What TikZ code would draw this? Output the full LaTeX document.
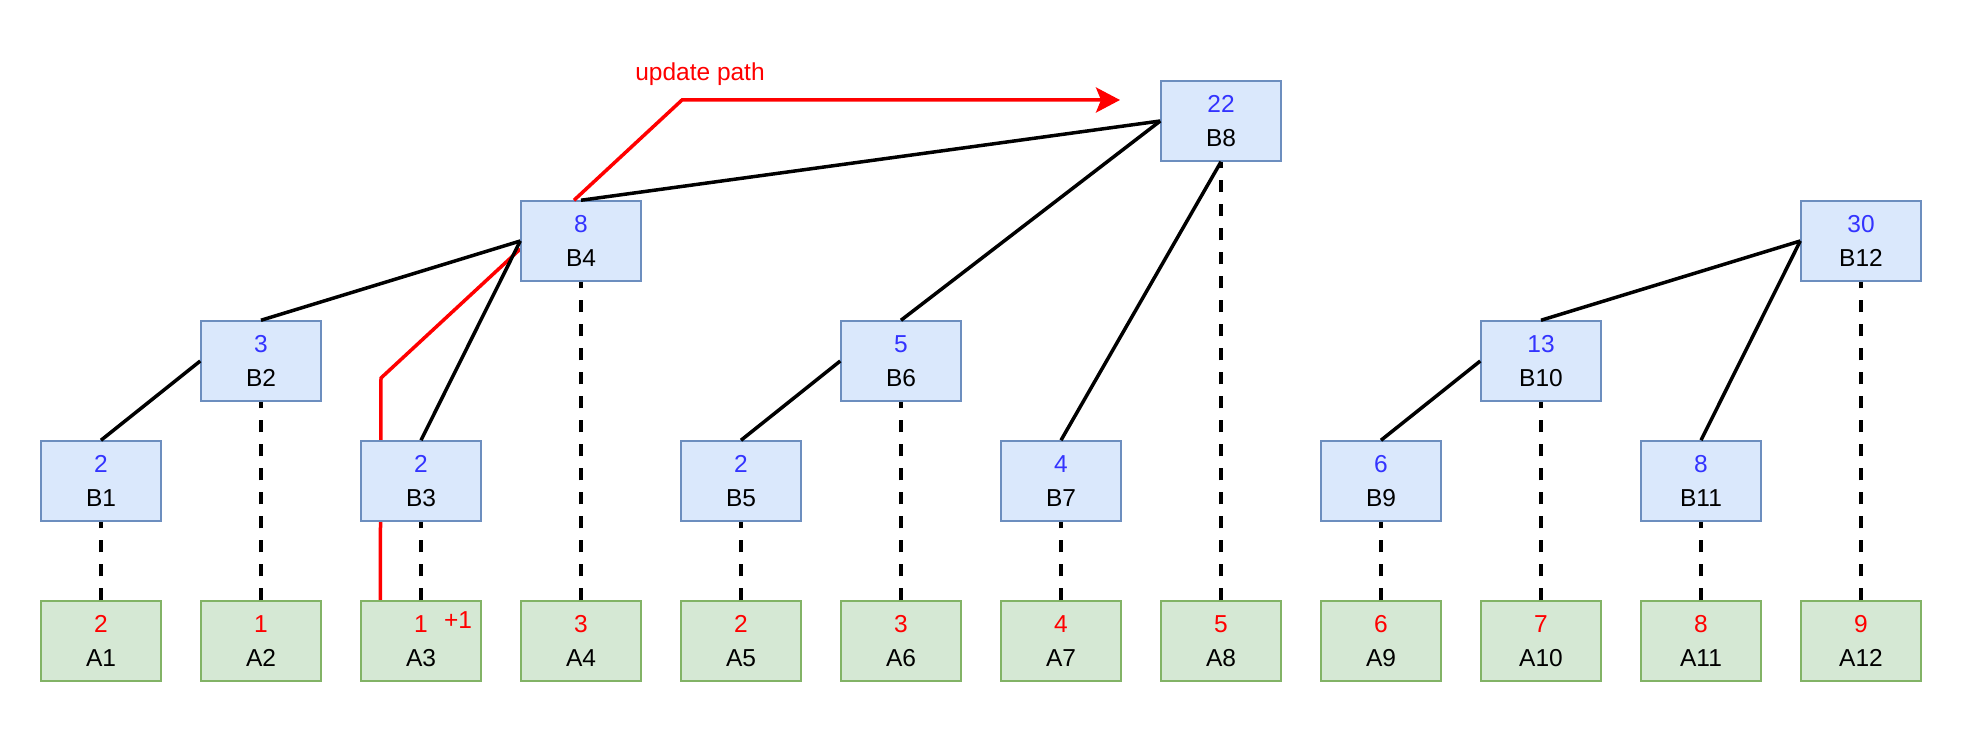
\documentclass[tikz,border=0pt]{standalone}
\usepackage{fontspec}
\setmainfont{Liberation Sans}
\usetikzlibrary{arrows.meta,backgrounds}
\definecolor{bfill}{HTML}{DAE8FC}
\definecolor{bstroke}{HTML}{6C8EBF}
\definecolor{gfill}{HTML}{D5E8D4}
\definecolor{gstroke}{HTML}{82B366}
\definecolor{numblue}{HTML}{3333FF}
\definecolor{numred}{HTML}{FF0000}
\newcommand{\bn}[1]{\textcolor{numblue}{#1}}
\newcommand{\rn}[1]{\textcolor{numred}{#1}}
\tikzset{
  boxbase/.style={line width=1.5pt, minimum width=120pt, minimum height=80pt, inner sep=0pt, align=center, font={\fontsize{24.5}{34}\selectfont}},
  bbox/.style={boxbase, draw=bstroke, fill=bfill},
  abox/.style={boxbase, draw=gstroke, fill=gfill},
  treeedge/.style={line width=3.5pt, black},
  leafedge/.style={line width=3.5pt, black, dash pattern=on 12pt off 12pt},
  updedge/.style={line width=3.5pt, numred},
  redlabel/.style={text=numred, inner sep=0pt, font={\fontsize{24.5}{28}\selectfont}}
}
\begin{document}
\begin{tikzpicture}[x=1pt,y=-1pt]
\useasboundingbox (0,0) rectangle (1962,738);
% leaves
\node[abox] (A1) at (101,641) {\rn{2}\\A1};
\node[abox] (A2) at (261,641) {\rn{1}\\A2};
\node[abox] (A3) at (421,641) {\rn{1}\\A3};
\node[abox] (A4) at (581,641) {\rn{3}\\A4};
\node[abox] (A5) at (741,641) {\rn{2}\\A5};
\node[abox] (A6) at (901,641) {\rn{3}\\A6};
\node[abox] (A7) at (1061,641) {\rn{4}\\A7};
\node[abox] (A8) at (1221,641) {\rn{5}\\A8};
\node[abox] (A9) at (1381,641) {\rn{6}\\A9};
\node[abox] (A10) at (1541,641) {\rn{7}\\A10};
\node[abox] (A11) at (1701,641) {\rn{8}\\A11};
\node[abox] (A12) at (1861,641) {\rn{9}\\A12};
% tree nodes
\node[bbox] (B1) at (101,481) {\bn{2}\\B1};
\node[bbox] (B3) at (421,481) {\bn{2}\\B3};
\node[bbox] (B5) at (741,481) {\bn{2}\\B5};
\node[bbox] (B7) at (1061,481) {\bn{4}\\B7};
\node[bbox] (B9) at (1381,481) {\bn{6}\\B9};
\node[bbox] (B11) at (1701,481) {\bn{8}\\B11};
\node[bbox] (B2) at (261,361) {\bn{3}\\B2};
\node[bbox] (B6) at (901,361) {\bn{5}\\B6};
\node[bbox] (B10) at (1541,361) {\bn{13}\\B10};
\node[bbox] (B4) at (581,241) {\bn{8}\\B4};
\node[bbox] (B12) at (1861,241) {\bn{30}\\B12};
\node[bbox] (B8) at (1221,121) {\bn{22}\\B8};
% dashed links
\foreach \i in {1,...,12} {\draw[leafedge] (A\i.north) -- (B\i.south);}
% tree links
\draw[treeedge] (B1.north) -- (B2.west);
\draw[treeedge] (B2.north) -- (B4.west);
\draw[treeedge] (B3.north) -- (B4.west);
\draw[treeedge] (B4.north) -- (B8.west);
\draw[treeedge] (B6.north) -- (B8.west);
\draw[treeedge] (B7.north) -- (B8.south);
\draw[treeedge] (B5.north) -- (B6.west);
\draw[treeedge] (B9.north) -- (B10.west);
\draw[treeedge] (B10.north) -- (B12.west);
\draw[treeedge] (B11.north) -- (B12.west);
% update path
\coordinate (bend1) at (381,378);
\coordinate (bend2) at (682,100);
\coordinate (tip) at (1120,100);
\begin{pgfonlayer}{background}
\draw[updedge] ([xshift=20pt]A3.north west) -- (bend1) -- ([yshift=-8pt]B4.west);
\end{pgfonlayer}
\draw[updedge, -{Stealth[length=24pt,width=25pt,inset=5pt]}] ([xshift=-7pt]B4.north) -- (bend2) -- (tip);
\node[redlabel] (lbl) at (700,74) {update path};
\node[redlabel] (plus) at (458,620) {+1};
\end{tikzpicture}
\end{document}
